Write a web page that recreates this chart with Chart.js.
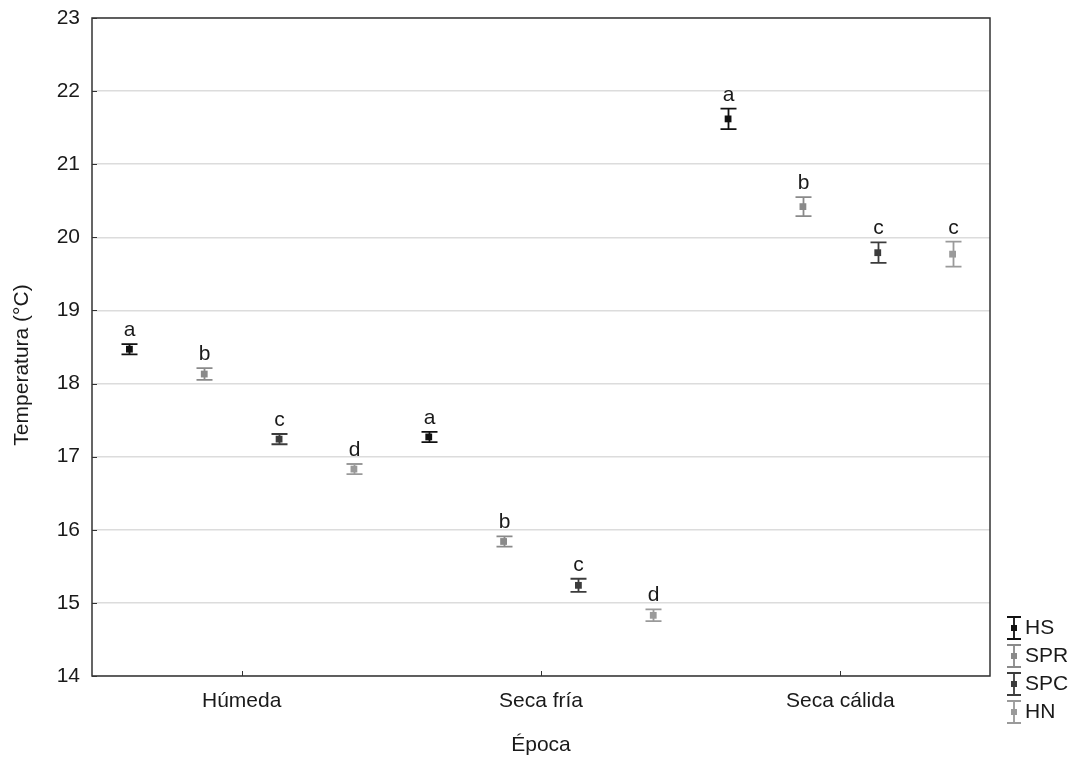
<!DOCTYPE html>
<html>
<head>
<meta charset="utf-8">
<script src="https://cdn.jsdelivr.net/npm/chart.js@4"></script>
<style>
  html, body { margin: 0; padding: 0; background: #fff; }
  #wrap { width: 1079px; height: 759px; }
</style>
</head>
<body>
<div id="wrap"><canvas id="chart" width="1079" height="759"></canvas></div>
<script>
const categories = ['Húmeda', 'Seca fría', 'Seca cálida'];
const seriesNames = ['HS', 'SPR', 'SPC', 'HN'];
const seriesColors = ['#111111', '#8a8a8a', '#3c3c3c', '#9a9a9a'];

// means, error half-widths and letters per series (one value per época)
const hsMean  = [18.47, 17.27, 21.62];
const hsErr   = [0.07, 0.07, 0.14];
const hsTag   = ['a', 'a', 'a'];
const sprMean = [18.13, 15.84, 20.42];
const sprErr  = [0.08, 0.07, 0.13];
const sprTag  = ['b', 'b', 'b'];
const spcMean = [17.24, 15.24, 19.79];
const spcErr  = [0.07, 0.09, 0.14];
const spcTag  = ['c', 'c', 'c'];
const hnMean  = [16.83, 14.83, 19.77];
const hnErr   = [0.07, 0.08, 0.17];
const hnTag   = ['d', 'd', 'c'];

const yTicks = [14, 15, 16, 17, 18, 19, 20, 21, 22, 23];
const yTitle = 'Temperatura (°C)';
const xTitle = 'Época';

const means = [hsMean, sprMean, spcMean, hnMean];
const errs = [hsErr, sprErr, spcErr, hnErr];
const tags = [hsTag, sprTag, spcTag, hnTag];

const FONT = "'Liberation Sans', Arial, sans-serif";
const TXT = '#1a1a1a';
const FS = 21;

const datasets = seriesNames.map((name, j) => ({
    label: name,
    data: categories.map((c, i) => ({
        x: i * 4 + j + 0.5,
        y: means[j][i],
        err: errs[j][i],
        tag: tags[j][i]
    })),
    backgroundColor: seriesColors[j],
    borderColor: seriesColors[j],
    pointStyle: 'rect',
    pointRadius: 4.8,
    pointBorderWidth: 0,
    showLine: false
}));

const errorBars = {
    id: 'errorBars',
    afterDatasetsDraw(chart) {
        const ctx = chart.ctx;
        const xs = chart.scales.x, ys = chart.scales.y;
        chart.data.datasets.forEach(ds => {
            ds.data.forEach(p => {
                const px = Math.round(xs.getPixelForValue(p.x)) + 0.5;
                const top = ys.getPixelForValue(p.y + p.err);
                const bot = ys.getPixelForValue(p.y - p.err);
                ctx.save();
                ctx.strokeStyle = ds.borderColor;
                ctx.lineWidth = 1.8;
                ctx.beginPath();
                ctx.moveTo(px, top); ctx.lineTo(px, bot);
                ctx.moveTo(px - 8, top); ctx.lineTo(px + 8, top);
                ctx.moveTo(px - 8, bot); ctx.lineTo(px + 8, bot);
                ctx.stroke();
                ctx.fillStyle = TXT;
                ctx.font = FS + 'px ' + FONT;
                ctx.textAlign = 'center';
                ctx.textBaseline = 'alphabetic';
                ctx.fillText(p.tag, px, top - 8);
                ctx.restore();
            });
        });
    }
};

const frame = {
    id: 'frame',
    afterDraw(chart) {
        const ctx = chart.ctx;
        const a = chart.chartArea;
        const xs = chart.scales.x, ys = chart.scales.y;
        ctx.save();
        ctx.strokeStyle = '#333';
        ctx.lineWidth = 1.5;
        ctx.strokeRect(a.left, a.top, a.right - a.left, a.bottom - a.top);
        ctx.lineWidth = 1;
        ctx.beginPath();
        yTicks.forEach(v => {
            const py = Math.round(ys.getPixelForValue(v)) + 0.5;
            ctx.moveTo(a.left, py); ctx.lineTo(a.left + 5, py);
        });
        xs.ticks.forEach(t => {
            const px = Math.round(xs.getPixelForValue(t.value)) + 0.5;
            ctx.moveTo(px, a.bottom); ctx.lineTo(px, a.bottom - 5);
        });
        ctx.stroke();

        // y title, sits a bit below the plot middle like the original
        ctx.save();
        ctx.translate(22, (a.top + a.bottom) / 2 + 18);
        ctx.rotate(-Math.PI / 2);
        ctx.fillStyle = TXT;
        ctx.font = FS + 'px ' + FONT;
        ctx.textAlign = 'center';
        ctx.textBaseline = 'middle';
        ctx.fillText(yTitle, 0, 0);
        ctx.restore();

        // legend, bottom right outside the plot
        const lx = 1014;
        seriesNames.forEach((name, j) => {
            const cy = 628 + j * 28;
            ctx.strokeStyle = seriesColors[j];
            ctx.fillStyle = seriesColors[j];
            ctx.lineWidth = 1.8;
            ctx.beginPath();
            ctx.moveTo(lx, cy - 11); ctx.lineTo(lx, cy + 11);
            ctx.moveTo(lx - 7, cy - 11); ctx.lineTo(lx + 7, cy - 11);
            ctx.moveTo(lx - 7, cy + 11); ctx.lineTo(lx + 7, cy + 11);
            ctx.stroke();
            ctx.fillRect(lx - 3, cy - 3, 6, 6);
            ctx.fillStyle = TXT;
            ctx.font = FS + 'px ' + FONT;
            ctx.textAlign = 'left';
            ctx.textBaseline = 'middle';
            ctx.fillText(name, lx + 11, cy);
        });
        ctx.restore();
    }
};

new Chart(document.getElementById('chart'), {
    type: 'scatter',
    data: { datasets },
    options: {
        responsive: false,
        animation: false,
        layout: { padding: { top: 18, right: 89, left: 0, bottom: 0 } },
        plugins: {
            legend: { display: false },
            tooltip: { enabled: false }
        },
        scales: {
            x: {
                type: 'linear',
                min: 0,
                max: 12,
                afterBuildTicks: s => { s.ticks = categories.map((c, i) => ({ value: i * 4 + 2 })); },
                afterFit: s => { s.height = 83; },
                grid: { display: false, drawTicks: false },
                border: { display: false },
                ticks: {
                    padding: 13,
                    color: TXT,
                    font: { family: FONT, size: FS },
                    callback: v => categories[(v - 2) / 4]
                },
                title: {
                    display: true,
                    text: xTitle,
                    color: TXT,
                    font: { family: FONT, size: FS },
                    padding: { top: 20, bottom: 1 }
                }
            },
            y: {
                min: 14,
                max: 23,
                afterBuildTicks: s => { s.ticks = yTicks.map(v => ({ value: v })); },
                afterFit: s => { s.width = 92; s.paddingTop = 0; s.paddingBottom = 0; },
                grid: { color: '#dcdcdc', lineWidth: 1.5, drawTicks: false },
                border: { display: false },
                ticks: {
                    padding: 12,
                    color: TXT,
                    font: { family: FONT, size: FS, lineHeight: 0.7 }
                },
                title: { display: false }
            }
        }
    },
    plugins: [errorBars, frame]
});
</script>
</body>
</html>
